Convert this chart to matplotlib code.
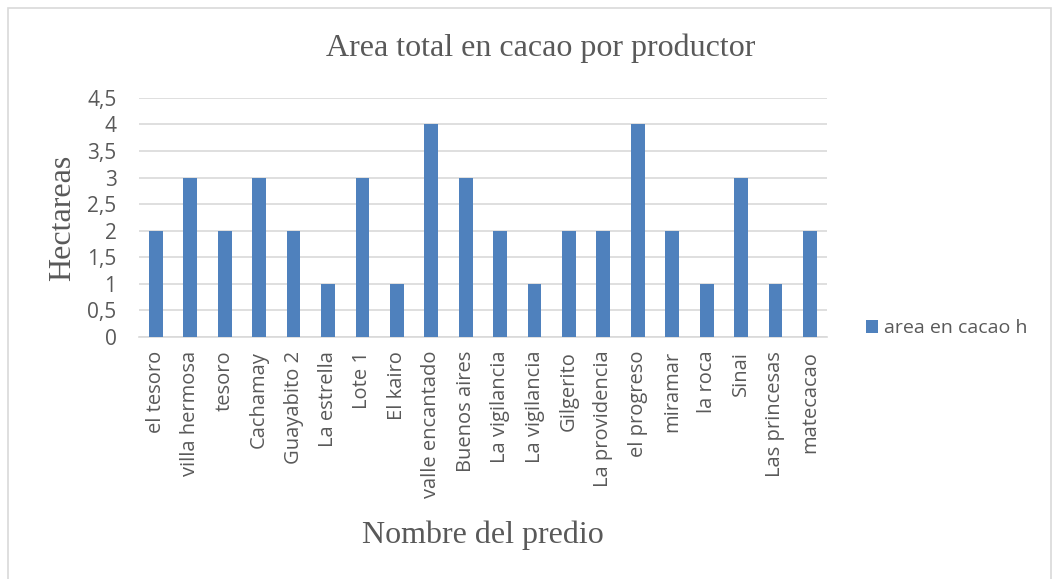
import matplotlib.pyplot as plt
from matplotlib.patches import Rectangle

# Datos del grafico
predios = ["el tesoro", "villa hermosa", "tesoro", "Cachamay", "Guayabito 2",
           "La estrella", "Lote 1", "El kairo", "valle encantado", "Buenos aires",
           "La vigilancia", "La vigilancia", "Gilgerito", "La providencia",
           "el progreso", "miramar", "la roca", "Sinai", "Las princesas", "matecacao"]
area_cacao = [2, 3, 2, 3, 2, 1, 3, 1, 4, 3, 2, 1, 2, 2, 4, 2, 1, 3, 1, 2]
y_ticks = [0, 0.5, 1, 1.5, 2, 2.5, 3, 3.5, 4, 4.5]
y_tick_labels = ["0", "0,5", "1", "1,5", "2", "2,5", "3", "3,5", "4", "4,5"]

BAR_COLOR = "#4f81bd"
TEXT_COLOR = "#595959"
GRID_COLOR = "#d9d9d9"

fig = plt.figure(figsize=(10.59, 5.79), dpi=100)
ax = fig.add_axes([0.131, 0.418, 0.650, 0.413])

x = range(len(predios))
ax.bar(x, area_cacao, width=0.4, color=BAR_COLOR, label="area en cacao h", zorder=3)

ax.set_xlim(-0.5, len(predios) - 0.5)
ax.set_ylim(0, 4.5)
ax.set_yticks(y_ticks)
ax.set_yticklabels(y_tick_labels, fontfamily="Open Sans", fontsize=15, color=TEXT_COLOR)
ax.set_xticks(list(x))
ax.set_xticklabels(predios, rotation=90, fontfamily="Open Sans", fontsize=14.5, color=TEXT_COLOR)
ax.tick_params(axis="x", length=0, pad=10)
ax.tick_params(axis="y", length=0, pad=16)
ax.yaxis.grid(True, color=GRID_COLOR, linewidth=1.2, zorder=0)

for side in ["top", "right", "left"]:
    ax.spines[side].set_visible(False)
ax.spines["bottom"].set_color(GRID_COLOR)
ax.spines["bottom"].set_linewidth(1.2)

ax.set_ylabel("Hectareas", fontfamily="Liberation Serif", fontsize=23, color=TEXT_COLOR)
ax.yaxis.set_label_coords(-0.089, 0.5)
fig.text(0.456, 0.076, "Nombre del predio", fontfamily="Liberation Serif", fontsize=23,
         color=TEXT_COLOR, ha="center", va="center")
fig.text(0.511, 0.917, "Area total en cacao por productor", fontfamily="Liberation Serif",
         fontsize=23, color=TEXT_COLOR, ha="center", va="center")

fig.legend(loc="center left", bbox_to_anchor=(0.818, 0.433), frameon=False,
           prop={"family": "Open Sans", "size": 14}, labelcolor=TEXT_COLOR,
           handlelength=0.6, handleheight=0.6, handletextpad=0.3,
           borderpad=0, borderaxespad=0)

# marco exterior del grafico
fig.patches.append(Rectangle((0.008, -0.05), 0.984, 1.036, transform=fig.transFigure,
                             fill=False, edgecolor=GRID_COLOR, linewidth=1.2))

fig.savefig("out.png", dpi=100)
